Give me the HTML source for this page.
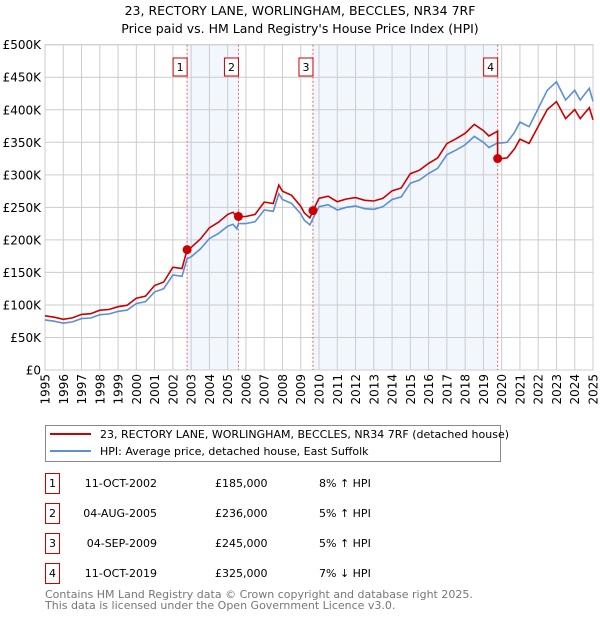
<!DOCTYPE html>
<html><head><meta charset="utf-8"><style>
body{margin:0;background:#fff;font-family:"DejaVu Sans","Liberation Sans",sans-serif}
svg text{font-family:"DejaVu Sans","Liberation Sans",sans-serif}
</style></head><body>
<svg id="c" width="600" height="620" xmlns="http://www.w3.org/2000/svg">
<text x="300" y="15" text-anchor="middle" font-size="12.5">23, RECTORY LANE, WORLINGHAM, BECCLES, NR34 7RF</text>
<text x="300" y="33" text-anchor="middle" font-size="12.5">Price paid vs. HM Land Registry's House Price Index (HPI)</text>
<g id="plot"></g>
<g>
<rect x="45.5" y="425.5" width="455" height="36" fill="#fff" stroke="#888"/>
<line x1="50" y1="434" x2="91" y2="434" stroke="#cc0000" stroke-width="2"/>
<text x="100" y="438" font-size="11">23, RECTORY LANE, WORLINGHAM, BECCLES, NR34 7RF (detached house)</text>
<line x1="50" y1="451" x2="91" y2="451" stroke="#5b8fd6" stroke-width="2"/>
<text x="100" y="455" font-size="11">HPI: Average price, detached house, East Suffolk</text>
</g>
<g id="table"></g>
<text x="45" y="598" font-size="11" fill="#777">Contains HM Land Registry data © Crown copyright and database right 2025.</text>
<text x="45" y="609" font-size="11" fill="#777">This data is licensed under the Open Government Licence v3.0.</text>
</svg>
<script>
const hpiYears=[1995,1995.5,1996,1996.5,1997,1997.5,1998,1998.5,1999,1999.5,2000,2000.5,2001,2001.5,2002,2002.5,2002.78,2003,2003.5,2004,2004.5,2005,2005.3,2005.5,2005.59,2006,2006.5,2007,2007.5,2007.8,2008,2008.5,2009,2009.2,2009.5,2009.67,2010,2010.5,2011,2011.5,2012,2012.5,2013,2013.5,2014,2014.5,2015,2015.5,2016,2016.5,2017,2017.5,2018,2018.5,2019,2019.3,2019.78,2020,2020.3,2020.7,2021,2021.5,2022,2022.5,2023,2023.5,2024,2024.3,2024.8,2025];
const hpiValues=[77,75,72,74,79,80,85,86,90,92,102,105,120,125,146,144,171,174,186,202,210,221,224,217,225,225,228,246,244,271,262,256,240,230,223,233,251,254,246,250,252,248,247,251,262,266,287,292,302,310,331,338,346,359,350,342,349,349,350,365,381,374,402,430,443,415,430,415,433,413];
const saleYears=[2002.78,2005.59,2009.67,2019.78];
const salePrices=[185,236,245,325];
const saleLabels=['1','2','3','4'];
const saleDates=['11-OCT-2002','04-AUG-2005','04-SEP-2009','11-OCT-2019'];
const saleDiffs=['8% ↑ HPI','5% ↑ HPI','5% ↑ HPI','7% ↓ HPI'];
const yTicks=[0,50,100,150,200,250,300,350,400,450,500];
const yTickLabels=['£0','£50K','£100K','£150K','£200K','£250K','£300K','£350K','£400K','£450K','£500K'];
const xTicks=[1995,1996,1997,1998,1999,2000,2001,2002,2003,2004,2005,2006,2007,2008,2009,2010,2011,2012,2013,2014,2015,2016,2017,2018,2019,2020,2021,2022,2023,2024,2025];

const L=45,R=593,T=44.7,B=370;
const xs=y=>L+(y-1995)/(2025-1995)*(R-L);
const ys=v=>B-v/500*(B-T);
const NS='http://www.w3.org/2000/svg';
const g=document.getElementById('plot');
function mk(tag,attrs,parent){const e=document.createElementNS(NS,tag);for(const k in attrs)e.setAttribute(k,attrs[k]);(parent||g).appendChild(e);return e;}
function hpiAt(y){for(let i=0;i<hpiYears.length-1;i++){if(y<=hpiYears[i+1]){const t=(y-hpiYears[i])/(hpiYears[i+1]-hpiYears[i]);return hpiValues[i]+t*(hpiValues[i+1]-hpiValues[i]);}}return hpiValues[hpiValues.length-1];}

let sh1=mk('rect',{x:xs(saleYears[0]),y:T,width:xs(saleYears[1])-xs(saleYears[0]),height:B-T,fill:'#f2f6fd'});


let sh2=mk('rect',{x:xs(saleYears[2]),y:T,width:xs(saleYears[3])-xs(saleYears[2]),height:B-T,fill:'#f2f6fd'});


yTicks.forEach((v,i)=>{
 let ln=mk('line',{x1:L,x2:R,y1:ys(v),y2:ys(v),stroke:'#ccc','stroke-width':1});
 
 
 let t=mk('text',{x:L-4,y:ys(v)+4.5,'text-anchor':'end','font-size':12});
 t.textContent=yTickLabels[i];
 
 
});
xTicks.forEach(yr=>{
 let ln=mk('line',{x1:xs(yr),x2:xs(yr),y1:T,y2:B,stroke:'#ccc','stroke-width':1});
 
 
 let t=mk('text',{x:0,y:0,'text-anchor':'end','font-size':12,transform:`translate(${xs(yr)+4.5},${B+4}) rotate(-90)`});
 t.textContent=yr;
 
 
});
let fr=mk('rect',{x:L,y:T,width:R-L,height:B-T,fill:'none',stroke:'#ccc'});


saleYears.forEach((sy,i)=>{
 let ln=mk('line',{x1:xs(sy),x2:xs(sy),y1:T,y2:B,stroke:'#e06666','stroke-width':1,'stroke-dasharray':'2,2'});
 
 
 let bx=mk('rect',{x:xs(sy)-14,y:58,width:14,height:18,fill:'#fff',stroke:'#cc0000'});
 
 
 let t=mk('text',{x:xs(sy)-7,y:71,'text-anchor':'middle','font-size':11});
 t.textContent=saleLabels[i];
 
 
});
let hp=hpiYears.map((y,i)=>(i?'L':'M')+xs(y).toFixed(1)+','+ys(hpiValues[i]).toFixed(1)).join('');
let hl=mk('path',{d:hp,fill:'none',stroke:'#5b8fd6','stroke-width':1.6});


const ratios=saleYears.map((sy,i)=>salePrices[i]/hpiAt(sy));
let pts=[];
hpiYears.forEach((y,i)=>{
 let k=0;for(let j=0;j<saleYears.length;j++)if(y>=saleYears[j])k=j;
 pts.push([y,hpiValues[i]*ratios[k]]);
});
saleYears.forEach((sy,i)=>{ if(i>0) pts.push([sy-0.001,hpiAt(sy)*ratios[i-1]]); pts.push([sy,salePrices[i]]);});
pts.sort((a,b)=>a[0]-b[0]);
let pp=pts.map((p,i)=>(i?'L':'M')+xs(p[0]).toFixed(1)+','+ys(p[1]).toFixed(1)).join('');
let pl=mk('path',{d:pp,fill:'none',stroke:'#cc0000','stroke-width':1.6});


saleYears.forEach((sy,i)=>{
 let c=mk('circle',{cx:xs(sy),cy:ys(salePrices[i]),r:4.5,fill:'#cc0000'});
 
 
});
const tb=document.getElementById('table');
saleLabels.forEach((lb,i)=>{
 const cy=483+i*30;
 let b=mk('rect',{x:45.5,y:cy-9.5,width:14,height:20,fill:'#fff',stroke:'#cc0000'},tb);
 
 
 let t=mk('text',{x:52.5,y:cy+4,'text-anchor':'middle','font-size':11},tb);t.textContent=lb;
 
 
 let d=mk('text',{x:157,y:cy+4,'text-anchor':'end','font-size':11},tb);d.textContent=saleDates[i];
 
 
 let p=mk('text',{x:215,y:cy+4,'font-size':11},tb);p.textContent='£'+salePrices[i]+',000';
 
 
 let h=mk('text',{x:319,y:cy+4,'font-size':11},tb);h.textContent=saleDiffs[i];
 
 
});
</script>
</body></html>
